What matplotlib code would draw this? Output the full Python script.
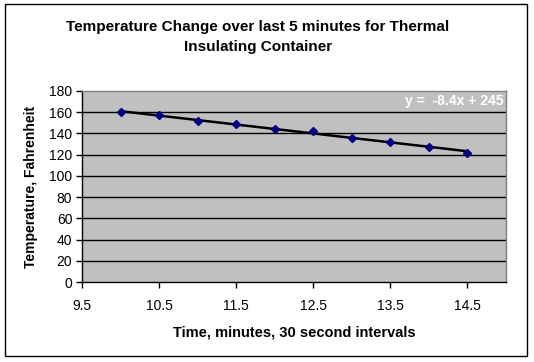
import matplotlib
matplotlib.use("Agg")
import matplotlib.pyplot as plt
from matplotlib.patches import Rectangle

time_min = [10, 10.5, 11, 11.5, 12, 12.5, 13, 13.5, 14, 14.5]
temperature = [160, 157, 152, 149, 144, 142, 136, 132, 127, 122]
x_ticks = [9.5, 10.5, 11.5, 12.5, 13.5, 14.5]
y_ticks = [0, 20, 40, 60, 80, 100, 120, 140, 160, 180]
trend_slope = -8.4
trend_intercept = 245

plt.rcParams['font.family'] = ['Liberation Sans', 'DejaVu Sans']

W, H = 534, 362
fig = plt.figure(figsize=(W / 100, H / 100), dpi=100)
fig.patch.set_facecolor('white')

# outer chart border
fig.add_artist(Rectangle((5 / W, 1 - 356 / H), (527 - 5) / W, (356 - 4) / H,
                         transform=fig.transFigure, fill=False,
                         edgecolor='black', linewidth=1.0))

ax = fig.add_axes([82 / W, 1 - 282 / H, (506 - 82) / W, (282 - 91) / H])
ax.set_facecolor('#C0C0C0')
for s in ['top', 'right']:
    ax.spines[s].set_color('#808080')
for s in ['left', 'bottom']:
    ax.spines[s].set_color('black')
for s in ax.spines.values():
    s.set_linewidth(1.0)

ax.set_xlim(9.5, 15)
ax.set_ylim(0, 180)
ax.set_xticks(x_ticks)
ax.set_xticklabels([str(t) for t in x_ticks])
ax.set_yticks(y_ticks)
ax.set_yticklabels([str(t) for t in y_ticks])
ax.tick_params(axis='both', direction='out', length=4, width=1,
               labelsize=10, colors='black', pad=8)
ax.tick_params(axis='y', pad=3)

for yv in y_ticks[1:-1]:
    ax.axhline(yv, color='black', linewidth=1.0, zorder=1)

xs = [time_min[0], time_min[-1]]
ax.plot(xs, [trend_slope * v + trend_intercept for v in xs],
        color='black', linewidth=1.8, zorder=2)
ax.plot(time_min, temperature, linestyle='none', marker='D', markersize=4,
        color='#000080', zorder=3)

ax.text(0.995, 0.985, 'y =  -8.4x + 245', transform=ax.transAxes,
        ha='right', va='top', color='white', fontsize=10, fontweight='bold')

ax.set_xlabel('Time, minutes, 30 second intervals', fontsize=10.5,
              fontweight='bold', labelpad=9)
ax.set_ylabel('Temperature, Fahrenheit', fontsize=10, fontweight='bold',
              labelpad=8)

fig.text(258 / W, 1 - 27 / H, 'Temperature Change over last 5 minutes for Thermal',
         ha='center', va='center', fontsize=11, fontweight='bold')
fig.text(258 / W, 1 - 47 / H, 'Insulating Container',
         ha='center', va='center', fontsize=11, fontweight='bold')

fig.savefig('out.png', dpi=100)
